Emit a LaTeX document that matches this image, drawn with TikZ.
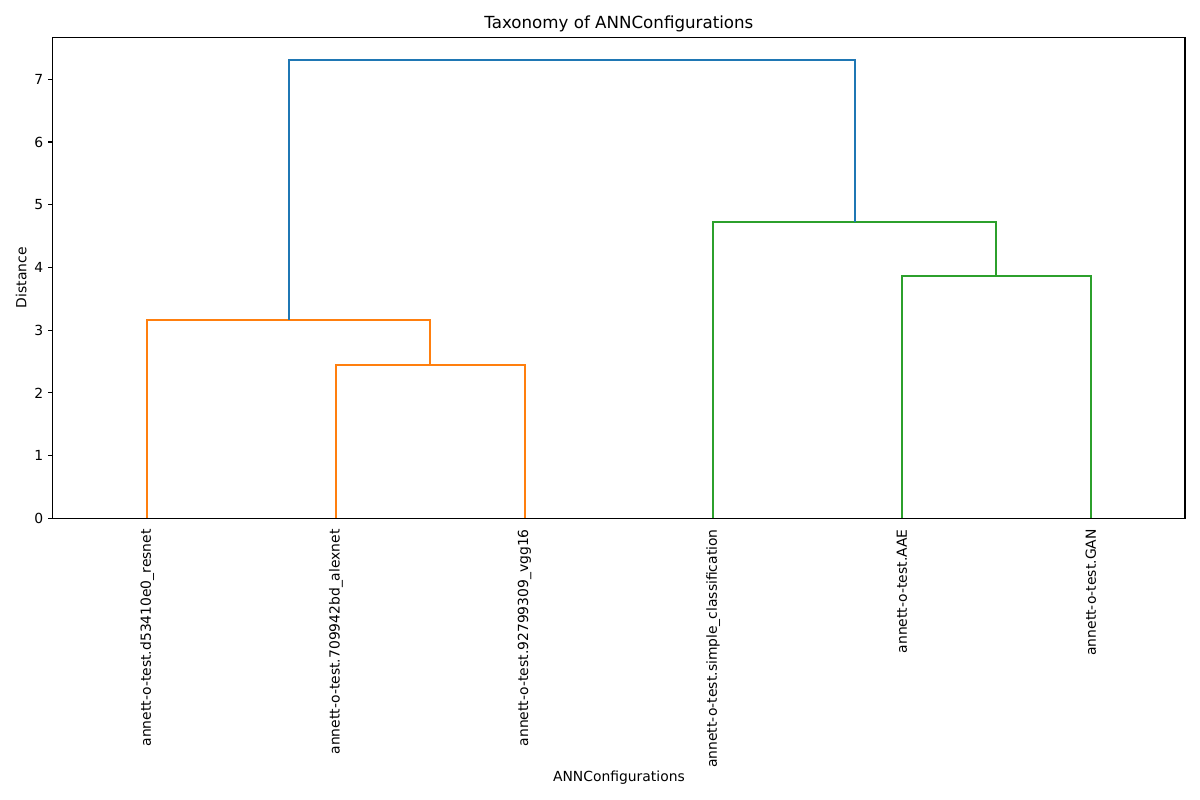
\documentclass[tikz,border=0pt]{standalone}
\usepackage{fontspec}
\setmainfont{DejaVu Sans}
\definecolor{mplblue}{HTML}{1F77B4}
\definecolor{mplorange}{HTML}{FF7F0E}
\definecolor{mplgreen}{HTML}{2CA02C}
\begin{document}
\begin{tikzpicture}[x=0.01in,y=-0.01in,
  link/.style={line width=1.5bp, line join=miter, line cap=butt},
  spine/.style={line width=0.8bp, black},
  ticklbl/.style={inner sep=0pt, font=\fontsize{10bp}{12bp}\selectfont},
  leaflbl/.style={inner sep=0pt, rotate=90, anchor=east, font=\fontsize{10bp}{12bp}\selectfont}]
\useasboundingbox (0,0) rectangle (1200,800);
% leaf coordinates
\coordinate (l1) at (147.2,518.3);
\coordinate (l2) at (335.9,518.3);
\coordinate (l3) at (524.6,518.3);
\coordinate (l4) at (713.2,518.3);
\coordinate (l5) at (901.9,518.3);
\coordinate (l6) at (1090.7,518.3);
% merge points
\coordinate (m23) at (430.2,364.7);
\coordinate (m123) at (288.7,320.1);
\coordinate (m56) at (996.3,275.6);
\coordinate (m456) at (854.8,222.3);
\coordinate (root) at (571.8,59.9);
% orange cluster
\draw[link, mplorange] (l2) |- (m23) -| (l3);
\draw[link, mplorange] (l1) |- (m123) -| (m23);
% green cluster
\draw[link, mplgreen] (l5) |- (m56) -| (l6);
\draw[link, mplgreen] (l4) |- (m456) -| (m56);
% blue root
\draw[link, mplblue] (m123) |- (root) -| (m456);
% axes frame
\coordinate (axtl) at (52.8,37.3);
\coordinate (axbr) at (1185,518.3);
\draw[spine] (axtl) rectangle (axbr);
% y ticks
\foreach \v in {0,...,7}{
  \draw[spine] (52.8,{518.3-62.71*\v}) -- ++(-4.86,0);
  \node[ticklbl, anchor=east] (yt\v) at (43.5,{518.3-62.71*\v}) {\v};
}
% leaf labels
\node[leaflbl] (t1) at (147.2,529) {annett-o-test.d53410e0\_resnet};
\node[leaflbl] (t2) at (335.9,529) {annett-o-test.709942bd\_alexnet};
\node[leaflbl] (t3) at (524.6,529) {annett-o-test.92799309\_vgg16};
\node[leaflbl] (t4) at (713.2,529) {annett-o-test.simple\_classification};
\node[leaflbl] (t5) at (901.9,529) {annett-o-test.AAE};
\node[leaflbl] (t6) at (1090.7,529) {annett-o-test.GAN};
% axis labels and title
\node[ticklbl, anchor=base] (xlab) at (618.9,781.7) {ANNConfigurations};
\node[ticklbl, rotate=90, anchor=base] (ylab) at (26.5,277.8) {Distance};
\node[inner sep=0pt, anchor=base, font=\fontsize{12bp}{14bp}\selectfont] (title) at (618.9,29) {Taxonomy of ANNConfigurations};
\end{tikzpicture}
\end{document}
